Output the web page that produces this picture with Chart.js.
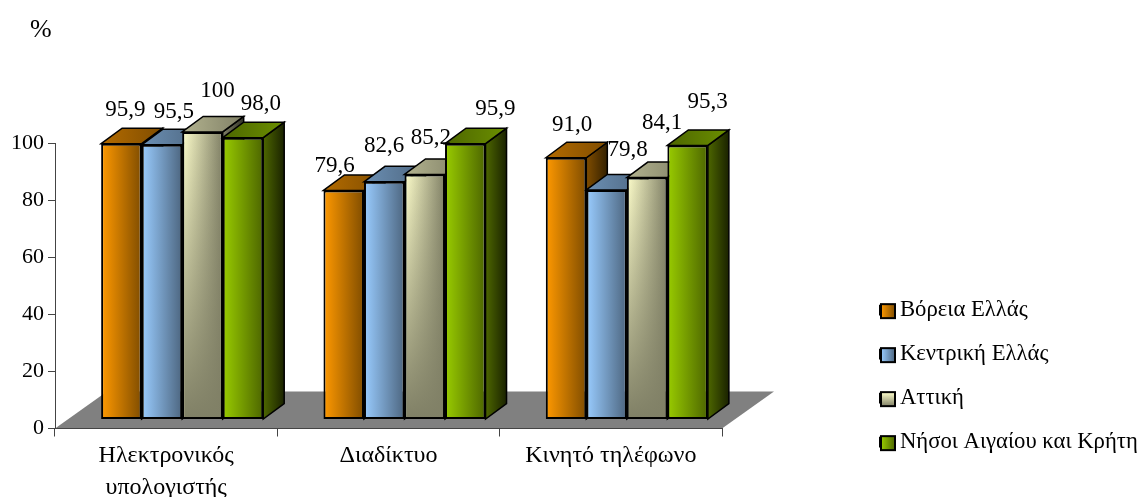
<!DOCTYPE html>
<html lang="el">
<head>
<meta charset="UTF-8">
<title>Chart</title>
<style>
  body { margin: 0; background: #fff; }
  canvas { display: block; }
</style>
</head>
<body>
<canvas id="myChart" width="1142" height="497"></canvas>
<script src="https://cdn.jsdelivr.net/npm/chart.js"></script>
<script>
const categories = [['Ηλεκτρονικός', 'υπολογιστής'], 'Διαδίκτυο', 'Κινητό τηλέφωνο'];
const seriesNames = ['Βόρεια Ελλάς', 'Κεντρική Ελλάς', 'Αττική', 'Νήσοι Αιγαίου και Κρήτη'];

const voreia = [95.9, 79.6, 91.0];
const kentriki = [95.5, 82.6, 79.8];
const attiki = [100, 85.2, 84.1];
const nisoi = [98.0, 95.9, 95.3];
const seriesValues = [voreia, kentriki, attiki, nisoi];

const yTicks = [0, 20, 40, 60, 80, 100];

// the labels were moved by hand in the original, offset from the top of each bar
const labelNudge = [
  [[4, -34], [-9, -25], [6, -33]],
  [[12, -33], [0, -36], [21, -40]],
  [[15, -41], [6, -36], [15, -55]],
  [[18, -34], [30, -35], [20, -43]]
];

const light = ['#ff9900', '#99ccff', '#ffffcc', '#99cc00'];
const dark = ['#804d00', '#4d6680', '#808066', '#4d6600'];
const topLeft = ['#b36b00', '#6b8fb3', '#b3b38f', '#4d6600'];
const topRight = ['#804d00', '#4d6680', '#808066', '#6b8f00'];
const sideLeft = ['#804d00', '#4d6680', '#808066', '#4d6600'];
const sideRight = ['#332000', '#1f2933', '#333329', '#1a2200'];

const FONT = '"Liberation Serif", "Times New Roman", serif';
const depthX = 21, depthY = 15.5;     // bar depth
const floorX = 52, floorY = 37;       // floor depth
const shiftX = 16;                    // bars stand inside the floor

function hGrad(ctx, x0, x1, a, b) {
  const g = ctx.createLinearGradient(x0, 0, x1, 0);
  g.addColorStop(0, a);
  g.addColorStop(1, b);
  return g;
}

function face(ctx, pts, fill) {
  ctx.beginPath();
  pts.forEach((p, i) => i ? ctx.lineTo(p[0], p[1]) : ctx.moveTo(p[0], p[1]));
  ctx.closePath();
  ctx.fillStyle = fill;
  ctx.fill();
  ctx.lineWidth = 1.5;
  ctx.strokeStyle = '#000';
  ctx.stroke();
}

const bars3d = {
  id: 'bars3d',
  afterLayout(chart) {
    const legend = chart.legend;
    legend.left = 880 - legend.options.labels.padding;
    legend.right = 1142;
    legend.top = 277.5;
    legend.bottom = 497;
    chart.titleBlock.left = 30;
    chart.titleBlock.right = 200;
  },
  beforeDraw(chart) {
    // grey floor, goes under the axes
    const ctx = chart.ctx, a = chart.chartArea;
    ctx.save();
    ctx.beginPath();
    ctx.moveTo(a.left, a.bottom);
    ctx.lineTo(a.left + floorX, a.bottom - floorY);
    ctx.lineTo(a.right + floorX, a.bottom - floorY);
    ctx.lineTo(a.right, a.bottom);
    ctx.closePath();
    ctx.fillStyle = '#808080';
    ctx.fill();
    ctx.restore();
  },
  beforeDatasetDraw() {
    return false; // drawn below, left to right, so the overlaps come out right
  },
  afterDatasetsDraw(chart) {
    const ctx = chart.ctx;
    ctx.save();
    ctx.translate(shiftX, 0);
    chart.data.labels.forEach((_, c) => {
      seriesValues.forEach((_, s) => {
        const bar = chart.getDatasetMeta(s).data[c];
        const l = bar.x - bar.width / 2, r = bar.x + bar.width / 2, t = bar.y, b = bar.base;
        face(ctx, [[r, t], [r + depthX, t - depthY], [r + depthX, b - depthY], [r, b]],
          hGrad(ctx, r, r + depthX, sideLeft[s], sideRight[s]));
        face(ctx, [[l, t], [l + depthX, t - depthY], [r + depthX, t - depthY], [r, t]],
          hGrad(ctx, l, r + depthX, topLeft[s], topRight[s]));
        const opts = Object.create(bar.options);
        opts.backgroundColor = hGrad(ctx, l, r, light[s], dark[s]);
        bar.options = opts;
        bar.draw(ctx);
        if (s === 2) {
          // Αττική also fades downwards
          const g = ctx.createLinearGradient(0, t, 0, b);
          g.addColorStop(0, 'rgba(128,128,102,0)');
          g.addColorStop(1, 'rgba(128,128,102,1)');
          ctx.fillStyle = g;
          ctx.fillRect(l + 2, t + 2, bar.width - 4, b - t - 4);
        }
      });
    });
    ctx.restore();

    ctx.save();
    ctx.font = '23px ' + FONT;
    ctx.fillStyle = '#000';
    ctx.textAlign = 'center';
    ctx.textBaseline = 'middle';
    seriesValues.forEach((vals, s) => {
      vals.forEach((v, c) => {
        const bar = chart.getDatasetMeta(s).data[c];
        const txt = v === 100 ? '100' : v.toFixed(1).replace('.', ',');
        ctx.fillText(txt, bar.x + shiftX + labelNudge[s][c][0], bar.y + labelNudge[s][c][1]);
      });
    });
    ctx.restore();
  },
  afterDraw(chart) {
    // legend keys are bigger than the gap Chart.js leaves before the text
    const ctx = chart.ctx, legend = chart.legend;
    const size = legend.options.labels.font.size, pad = legend.options.labels.padding;
    ctx.save();
    seriesNames.forEach((_, s) => {
      const y = legend.top + pad + s * (size + pad) + size / 2 - 6;
      if (s === 2) {
        const g = ctx.createLinearGradient(0, y, 0, y + 14);
        g.addColorStop(0, light[s]);
        g.addColorStop(1, dark[s]);
        ctx.fillStyle = g;
      } else {
        ctx.fillStyle = hGrad(ctx, 881, 895, light[s], dark[s]);
      }
      ctx.fillRect(881, y, 14, 14);
      ctx.lineWidth = 2;
      ctx.strokeStyle = '#000';
      ctx.strokeRect(881, y, 14, 14);
    });
    ctx.restore();
  }
};

new Chart(document.getElementById('myChart'), {
  type: 'bar',
  data: {
    labels: categories,
    datasets: seriesValues.map((vals, s) => ({
      label: seriesNames[s],
      data: vals,
      yAxisID: 'yBars',
      backgroundColor: light[s],
      borderColor: '#000',
      borderWidth: 2,
      borderSkipped: false,
      categoryPercentage: 0.729,
      barPercentage: 1
    }))
  },
  plugins: [bars3d],
  options: {
    responsive: false,
    animation: false,
    layout: { padding: { left: 0, right: 420, top: 0, bottom: 0 } },
    plugins: {
      tooltip: { enabled: false },
      title: {
        display: true,
        text: '%',
        align: 'start',
        color: '#000',
        font: { family: FONT, size: 26, weight: 'normal' },
        padding: { top: 15, bottom: 97 }
      },
      legend: {
        position: 'chartArea',
        align: 'start',
        labels: {
          color: '#000',
          font: { family: FONT, size: 22.7 },
          boxWidth: 8.6,
          boxHeight: 8.6,
          padding: 21.3
        }
      }
    },
    scales: {
      x: {
        offset: true,
        afterFit: s => { s.height = 68.5; },
        border: { color: '#444', width: 1 },
        grid: { offset: true, drawOnChartArea: false, tickLength: 8, tickColor: '#444' },
        ticks: {
          color: '#000',
          maxRotation: 0,
          padding: 3,
          font: { family: FONT, size: 24, lineHeight: 1.33 }
        }
      },
      y: {
        min: 0,
        max: 100,
        afterFit: s => { s.width = 55; },
        afterBuildTicks: s => { s.ticks = yTicks.map(v => ({ value: v })); },
        border: { color: '#444', width: 1 },
        grid: { drawOnChartArea: false, tickLength: 7, tickColor: '#444' },
        ticks: { color: '#000', padding: 4, font: { family: FONT, size: 22 } }
      },
      // the bars stand further back on the floor than the axis, and on a slightly bigger scale
      yBars: { display: false, min: -3.3, max: 96.06 }
    }
  }
});
</script>
</body>
</html>
